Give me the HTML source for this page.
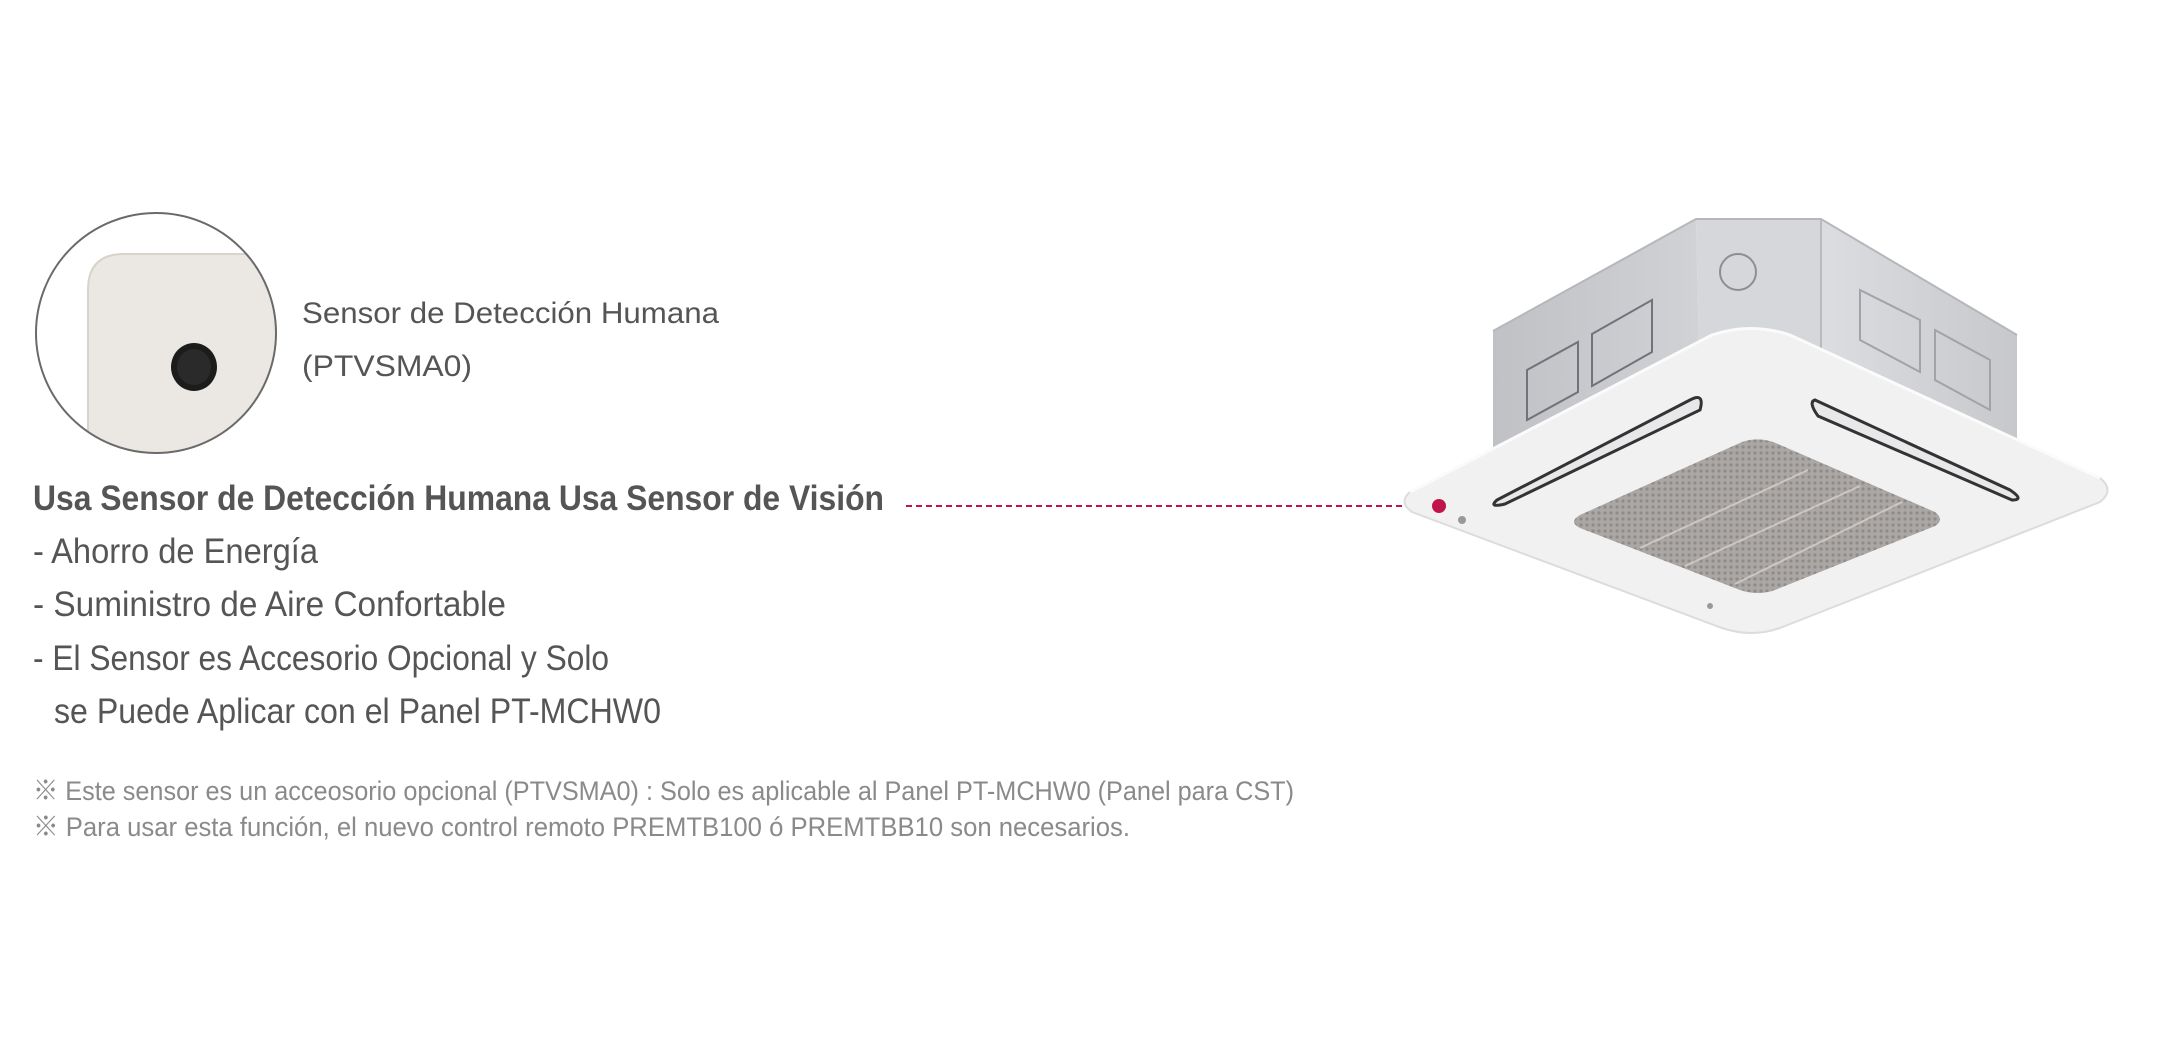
<!DOCTYPE html>
<html><head><meta charset="utf-8"><style>
html,body{margin:0;padding:0;background:#fff;width:2177px;height:1048px;overflow:hidden}
svg{display:block}
</style></head><body>
<svg width="2177" height="1048" viewBox="0 0 2177 1048" xmlns="http://www.w3.org/2000/svg">
<defs>
<clipPath id="cc"><circle cx="156" cy="333" r="120"/></clipPath>
<pattern id="mesh" width="6" height="6" patternUnits="userSpaceOnUse"><rect width="6" height="6" fill="#aaa7a5"/><circle cx="3" cy="3" r="1.6" fill="#8e8b89"/></pattern>
<linearGradient id="lf" x1="0" y1="0" x2="1" y2="0"><stop offset="0" stop-color="#bfc1c5"/><stop offset="1" stop-color="#d0d2d5"/></linearGradient>
<linearGradient id="rf" x1="0" y1="0" x2="1" y2="0"><stop offset="0" stop-color="#dcdde0"/><stop offset="1" stop-color="#c6c8cb"/></linearGradient>
</defs>
<!-- sensor circle -->
<g clip-path="url(#cc)">
<rect x="30" y="210" width="260" height="250" fill="#fff"/>
<path d="M88 460 L88 290 Q88 254 124 254 L290 254 L290 460 Z" fill="#ebe7e2" stroke="#d8d3cd" stroke-width="2"/>
<ellipse cx="194" cy="367" rx="23" ry="24" fill="#1c1c1c"/>
<ellipse cx="194" cy="367" rx="17" ry="18" fill="#2a2a2a"/>
</g>
<circle cx="156" cy="333" r="120" fill="none" stroke="#6a6a6a" stroke-width="2"/>
<g font-family="'Liberation Sans', sans-serif" fill="#555" transform="translate(-2,-4)">
<text x="304" y="327" font-size="30" textLength="417" lengthAdjust="spacingAndGlyphs">Sensor de Detección Humana</text>
<text x="304" y="380" font-size="30" textLength="170" lengthAdjust="spacingAndGlyphs">(PTVSMA0)</text>
<text x="35" y="514" font-size="35" font-weight="bold" textLength="851" lengthAdjust="spacingAndGlyphs">Usa Sensor de Detección Humana Usa Sensor de Visión</text>
<text x="35" y="567" font-size="35" textLength="285" lengthAdjust="spacingAndGlyphs">- Ahorro de Energía</text>
<text x="35" y="620" font-size="35" textLength="473" lengthAdjust="spacingAndGlyphs">- Suministro de Aire Confortable</text>
<text x="35" y="674" font-size="35" textLength="576" lengthAdjust="spacingAndGlyphs">- El Sensor es Accesorio Opcional y Solo</text>
<text x="56" y="727" font-size="35" textLength="607" lengthAdjust="spacingAndGlyphs">se Puede Aplicar con el Panel PT-MCHW0</text>
<g fill="#8a8a8a" font-family="'Liberation Sans','Noto Sans CJK JP',sans-serif">
<text x="35" y="804" font-size="27" textLength="1261" lengthAdjust="spacingAndGlyphs">※ Este sensor es un acceosorio opcional (PTVSMA0) : Solo es aplicable al Panel PT-MCHW0 (Panel para CST)</text>
<text x="35" y="840" font-size="27" textLength="1097" lengthAdjust="spacingAndGlyphs">※ Para usar esta función, el nuevo control remoto PREMTB100 ó PREMTBB10 son necesarios.</text>
</g>
</g>
<!-- dashed connector -->
<line x1="906" y1="506" x2="1432" y2="506" stroke="#c0154a" stroke-width="2" stroke-dasharray="6,4"/>
<!-- AC unit -->
<g>
<polygon points="1493,331 1696,219 1700,400 1493,470" fill="url(#lf)"/>
<polygon points="1696,219 1821,219 1821,400 1700,400" fill="#d6d7da"/>
<polygon points="1821,219 2017,335 2017,460 1821,400" fill="url(#rf)"/>
<polyline points="1493,331 1696,219 1821,219 2017,335" fill="none" stroke="#b5b7bb" stroke-width="2"/>
<line x1="1821" y1="219" x2="1821" y2="380" stroke="#b8babe" stroke-width="2"/>
<circle cx="1738" cy="272" r="18" fill="none" stroke="#8d8f93" stroke-width="2"/>
<polygon points="1527,370 1578,342 1578,392 1527,420" fill="none" stroke="#70737a" stroke-width="2"/>
<polygon points="1592,334 1652,300 1652,352 1592,386" fill="none" stroke="#70737a" stroke-width="2"/>
<polygon points="1860,290 1920,320 1920,372 1860,340" fill="none" stroke="#a0a3a8" stroke-width="2"/>
<polygon points="1935,330 1990,360 1990,410 1935,380" fill="none" stroke="#a0a3a8" stroke-width="2"/>
<!-- panel -->
<path d="M1410,492 L1712,335 Q1750,322 1790,335 L2100,478 Q2115,490 2100,502 L1780,628 Q1752,638 1722,628 L1412,512 Q1398,502 1410,492 Z" fill="#f1f1f2" stroke="#dcdcde" stroke-width="2"/>
<path d="M1410,492 L1712,335 Q1750,322 1790,335 L2100,478" fill="none" stroke="#fbfbfb" stroke-width="3"/>
<!-- slots -->
<path d="M1497,500 L1690,400 Q1705,392 1700,410 L1505,504 Q1488,508 1497,500 Z" fill="#e8e8ea" stroke="#333" stroke-width="3"/>
<path d="M1815,400 L2010,490 Q2025,500 2012,500 L1818,416 Q1808,402 1815,400 Z" fill="#e8e8ea" stroke="#333" stroke-width="3"/>
<!-- grille -->
<path d="M1580,515 L1742,442 Q1760,436 1778,444 L1935,512 Q1945,520 1935,526 L1775,590 Q1758,596 1740,590 L1580,528 Q1568,522 1580,515 Z" fill="url(#mesh)"/>
<g stroke="#d9cfcb" stroke-width="2" opacity="0.8">
<line x1="1640" y1="548" x2="1808" y2="470"/>
<line x1="1685" y1="566" x2="1860" y2="486"/>
<line x1="1735" y1="584" x2="1902" y2="502"/>
</g>
<circle cx="1462" cy="520" r="4" fill="#999"/>
<circle cx="1710" cy="606" r="3" fill="#999"/>
</g>
<circle cx="1439" cy="506" r="7" fill="#c0154a"/>
</svg>
</body></html>
